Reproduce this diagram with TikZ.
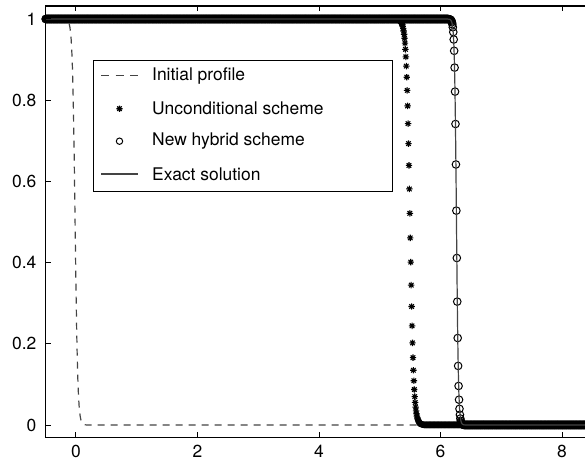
\documentclass[tikz,border=0pt]{standalone}
\usepackage{fontspec}
\setmainfont{TeX Gyre Heros}
\usetikzlibrary{plotmarks}
\definecolor{plotGray}{HTML}{444444}

% eight-ray star, as the solver marks its points
\pgfdeclareplotmark{mstar}{%
  \pgfpathmoveto{\pgfqpoint{-\pgfplotmarksize}{0pt}}\pgfpathlineto{\pgfqpoint{\pgfplotmarksize}{0pt}}%
  \pgfpathmoveto{\pgfqpoint{0pt}{-\pgfplotmarksize}}\pgfpathlineto{\pgfqpoint{0pt}{\pgfplotmarksize}}%
  \pgfpathmoveto{\pgfqpoint{-.7071\pgfplotmarksize}{-.7071\pgfplotmarksize}}%
  \pgfpathlineto{\pgfqpoint{.7071\pgfplotmarksize}{.7071\pgfplotmarksize}}%
  \pgfpathmoveto{\pgfqpoint{-.7071\pgfplotmarksize}{.7071\pgfplotmarksize}}%
  \pgfpathlineto{\pgfqpoint{.7071\pgfplotmarksize}{-.7071\pgfplotmarksize}}%
  \pgfusepathqstroke}

\begin{document}
\begin{tikzpicture}[
  x=60.75bp, y=406bp,
  font=\fontsize{17.5}{20}\selectfont,
  ax/.style={line width=1.3bp, draw=black},
  tk/.style={line width=1bp, draw=black},
  lbl/.style={inner sep=0pt},
  ini/.style={line width=1.2bp, draw=plotGray, dash pattern=on 7bp off 6bp},
  ex/.style={line width=1.2bp, draw=plotGray},
  unc/.style={mark=mstar, mark size=3.2bp, mark options={line width=1.1bp, solid, draw=black}},
  hyb/.style={mark=o, mark size=3.8bp, mark options={line width=1bp, solid, draw=black}},
  declare function={front(\x,\c,\w)=1/(1+exp(max(-9,min(9,(\x-\c)/\w))));}
]
\useasboundingbox (-1.2510,-0.09606) rectangle (8.3786,1.0468);

% curves
\draw[ini] plot[domain=-0.5:8.5, samples=900] (\x,{front(\x,-0.015,0.022)});
\path[unc, only marks] plot[domain=-0.5:8.5, samples=1234] (\x,{front(\x,5.498,0.030)});
\path[hyb, only marks] plot[domain=-0.5:8.5, samples=1234] (\x,{front(\x,6.263,0.0155)});
\draw[ex] plot[domain=-0.5:8.5, samples=1200] (\x,{front(\x,6.263,0.016)});

% axes box and ticks
\draw[ax] (8.5,1.032) -- (-0.5,1.032) -- (-0.5,-0.03) -- (8.5,-0.03);
\foreach \v in {0,2,4,6,8} {
  \draw[tk] (\v,-0.03) -- ++(0,5bp);
  \draw[tk] (\v,1.032) -- ++(0,-5bp);
  \node[lbl] (xt\v) at (\v,-0.0653) {\v};
}
\foreach \v/\t in {0/0,0.2/0.2,0.4/0.4,0.6/0.6,0.8/0.8,1/1} {
  \draw[tk] (-0.5,\v) -- ++(5bp,0);
  \node[lbl, anchor=east] (yt\t) at (-0.650,\v) {\t};
}

% legend
\filldraw[fill=white, draw=black, line width=1bp] (0.280,0.574) rectangle (5.202,0.899);
\coordinate (lgIa) at (0.412,0.860); \coordinate (lgIb) at (1.021,0.860);
\coordinate (lgU) at (0.716,0.779);
\coordinate (lgH) at (0.716,0.699);
\coordinate (lgEa) at (0.412,0.618); \coordinate (lgEb) at (1.021,0.618);
\draw[ini, dash pattern=on 8bp off 6.5bp] (lgIa) -- (lgIb);
\path[unc, only marks] plot coordinates {(lgU)};
\path[hyb, only marks, mark size=3.2bp] plot coordinates {(lgH)};
\draw[ex] (lgEa) -- (lgEb);
\node[lbl, anchor=west] (lgIt) at (1.251,0.860) {Initial profile};
\node[lbl, anchor=west] (lgUt) at (1.251,0.779) {Unconditional scheme};
\node[lbl, anchor=west] (lgHt) at (1.251,0.699) {New hybrid scheme};
\node[lbl, anchor=west] (lgEt) at (1.251,0.618) {Exact solution};
\end{tikzpicture}
\end{document}
